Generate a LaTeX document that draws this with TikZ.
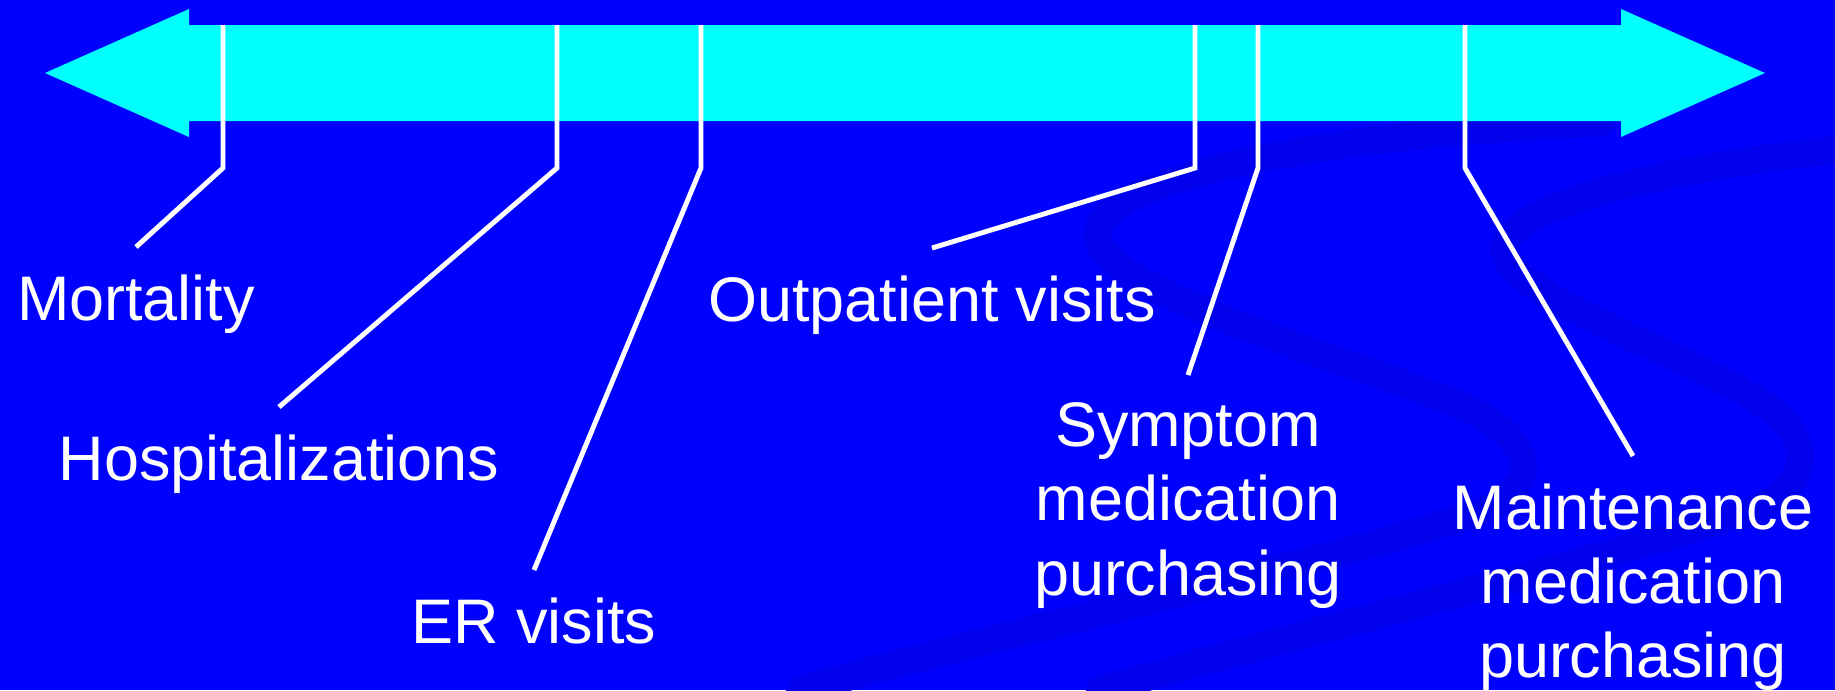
\documentclass[tikz,border=0pt]{standalone}
\usepackage{fontspec}
\setmainfont{Liberation Sans}
\definecolor{SlideBlue}{RGB}{0,0,255}
\definecolor{SwirlBlue}{RGB}{0,0,237}
\definecolor{BarCyan}{RGB}{0,255,255}
\tikzset{
    leader/.style={draw=white, line width=1.4pt},
    outcome/.style={anchor=north, text=white, align=center, inner xsep=0pt, inner ysep=0.27cm,
        font=\fontsize{17.9pt}{21.1pt}\selectfont},
    swirl/.style={draw=SwirlBlue, line width=8pt, line cap=round}
}
\begin{document}
\begin{tikzpicture}[x=0.01cm, y=-0.01cm]

    % --- BACKGROUND ---
    \fill[SlideBlue] (0,0) rectangle (1835,690);
    \useasboundingbox (0,0) rectangle (1835,690);

    % --- SWIRLS ---
    \draw[swirl] (1600,123) .. controls (1300,135) and (1070,185) .. (1100,245)
        .. controls (1130,300) and (1350,360) .. (1460,405)
        .. controls (1540,440) and (1545,490) .. (1470,515)
        .. controls (1300,570) and (1050,620) .. (800,690);
    \draw[swirl] (1835,150) .. controls (1650,170) and (1490,210) .. (1505,255)
        .. controls (1520,300) and (1700,360) .. (1765,405)
        .. controls (1820,445) and (1810,490) .. (1740,515)
        .. controls (1600,560) and (1350,620) .. (1100,690);

    % --- DOUBLE ARROW ---
    \fill[BarCyan] (45,73) -- (189,9) -- (189,25) -- (1621,25) -- (1621,9) -- (1765,73)
        -- (1621,137) -- (1621,121) -- (189,121) -- (189,137) -- cycle;

    % --- OUTCOMES ---
    \node[outcome] (mort)  at (136,247)  {Mortality};
    \node[outcome] (hosp)  at (279,407)  {Hospitalizations};
    \node[outcome] (er)    at (534,570)  {ER visits};
    \node[outcome] (outp)  at (932,248)  {Outpatient visits};
    \node[outcome] (symp)  at (1188,375) {Symptom\\medication\\purchasing};
    \node[outcome] (maint) at (1633,456) {Maintenance\\medication\\purchasing};

    % --- LEADERS ---
    \foreach \lbl/\x in {mort/223, hosp/557, er/701, outp/1195, symp/1258, maint/1465} {
        \draw[leader] (\x,25) -- (\x,168) -- (\lbl.north);
    }

\end{tikzpicture}
\end{document}
